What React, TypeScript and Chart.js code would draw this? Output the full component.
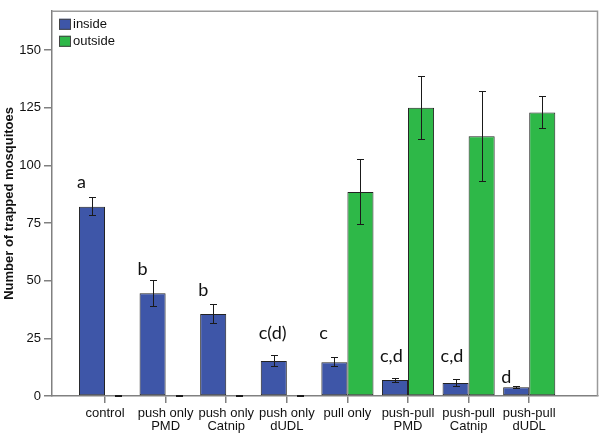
import React, { useEffect, useRef } from "react";
import { Chart, registerables } from "chart.js";

Chart.register(...registerables);

const categories: string[][] = [
  ["control"],
  ["push only", "PMD"],
  ["push only", "Catnip"],
  ["push only", "dUDL"],
  ["pull only"],
  ["push-pull", "PMD"],
  ["push-pull", "Catnip"],
  ["push-pull", "dUDL"],
];
const insideMeans = [82.0, 44.5, 35.6, 15.2, 14.6, 6.9, 5.6, 3.8];
const insideErr = [4.1, 5.8, 4.2, 2.6, 2.1, 1.1, 1.8, 0.7];
const outsideMeans = [0, 0, 0, 0, 88.4, 125.0, 112.6, 122.9];
const outsideErr = [0, 0, 0, 0, 14.3, 13.8, 19.8, 7.2];
const sigLetters = ["a", "b", "b", "c(d)", "c", "c,d", "c,d", "d"];
const sigLevels = [90.2, 52.5, 43.4, 24.5, 24.5, 14.9, 14.9, 5.6];
const yTicks = [0, 25, 50, 75, 100, 125, 150];
const seriesNames = ["inside", "outside"];

const BLUE = "#3e56a8";
const GREEN = "#2eb848";
const FONT = "'Liberation Sans', Arial, sans-serif";

export default function App() {
  const ref = useRef<HTMLCanvasElement | null>(null);

  useEffect(() => {
    document.body.style.margin = "0";
    const canvas = ref.current;
    if (!canvas) return;

    const errs = [insideErr, outsideErr];

    const errorBars = {
      id: "errorBars",
      afterDatasetsDraw(chart: any) {
        const ctx = chart.ctx;
        const y = chart.scales.y;
        ctx.save();
        ctx.strokeStyle = "#1a1a1a";
        ctx.lineWidth = 1;
        chart.data.datasets.forEach((ds: any, di: number) => {
          const meta = chart.getDatasetMeta(di);
          meta.data.forEach((el: any, i: number) => {
            const v = ds.data[i].y;
            const e = errs[di][i];
            const x = Math.round(el.x) + 0.5;
            const yt = Math.round(y.getPixelForValue(v + e)) + 0.5;
            const yb = Math.round(y.getPixelForValue(v - e)) - 0.5;
            const cap = 3.5;
            ctx.beginPath();
            ctx.moveTo(x, yt);
            ctx.lineTo(x, yb);
            ctx.moveTo(x - cap, yt);
            ctx.lineTo(x + cap, yt);
            ctx.moveTo(x - cap, yb);
            ctx.lineTo(x + cap, yb);
            ctx.stroke();
          });
        });
        ctx.restore();
      },
    };

    const letters = {
      id: "letters",
      afterDatasetsDraw(chart: any) {
        const ctx = chart.ctx;
        const y = chart.scales.y;
        const meta = chart.getDatasetMeta(0);
        ctx.save();
        ctx.fillStyle = "#111";
        ctx.font = "18px Lato, 'Open Sans', sans-serif";
        ctx.textAlign = "left";
        ctx.textBaseline = "alphabetic";
        meta.data.forEach((el: any, i: number) => {
          const left = el.x - el.width / 2 - 2;
          ctx.fillText(sigLetters[i], left, y.getPixelForValue(sigLevels[i]));
        });
        ctx.restore();
      },
    };

    const frame = {
      id: "frame",
      afterDraw(chart: any) {
        const { left, right, top, bottom } = chart.chartArea;
        const ctx = chart.ctx;
        ctx.save();
        ctx.strokeStyle = "#9a9a9a";
        ctx.lineWidth = 1.5;
        ctx.beginPath();
        ctx.moveTo(left, top + 0.5);
        ctx.lineTo(right - 0.5, top + 0.5);
        ctx.lineTo(right - 0.5, bottom);
        ctx.stroke();

        // legend
        const colors = [BLUE, GREEN];
        ctx.font = "13px " + FONT;
        ctx.textBaseline = "middle";
        ctx.textAlign = "left";
        seriesNames.forEach((name, i) => {
          const sx = left + 7;
          const sy = top + 8 + i * 17;
          ctx.fillStyle = colors[i];
          ctx.fillRect(sx, sy, 12, 11);
          ctx.strokeStyle = "#444";
          ctx.lineWidth = 1;
          ctx.strokeRect(sx + 0.5, sy + 0.5, 11, 10);
          ctx.fillStyle = "#111";
          ctx.fillText(name, sx + 14, sy + 6);
        });
        ctx.restore();
      },
    };

    const chart = new Chart(canvas, {
      type: "bar",
      data: {
        datasets: [
          {
            label: seriesNames[0],
            data: insideMeans.map((v, i) => ({ x: i, y: v })),
            backgroundColor: BLUE,
            borderColor: "#222",
            borderWidth: 1,
            borderSkipped: false,
          },
          {
            label: seriesNames[1],
            data: outsideMeans.map((v, i) => ({ x: i, y: v })),
            backgroundColor: GREEN,
            borderColor: "#222",
            borderWidth: 1,
            borderSkipped: false,
          },
        ],
      },
      options: {
        responsive: false,
        animation: false,
        categoryPercentage: 0.86,
        barPercentage: 1.0,
        layout: { padding: { top: 1, right: 2, left: 0, bottom: 0 } },
        plugins: {
          legend: { display: false },
          tooltip: { enabled: false },
        },
        scales: {
          x: {
            type: "linear",
            min: -0.875,
            max: 8.135,
            offset: false,
            afterFit(scale: any) {
              scale.height = 38;
            },
            afterBuildTicks(scale: any) {
              scale.ticks = categories.map((_, i) => ({ value: i }));
            },
            border: { color: "#808080", width: 1.5 },
            grid: {
              offset: false,
              drawOnChartArea: false,
              drawTicks: true,
              tickLength: 7,
              color: "#808080",
              lineWidth: 1.5,
            },
            ticks: {
              includeBounds: false,
              autoSkip: false,
              maxRotation: 0,
              padding: 4,
              color: "#111",
              font: { family: FONT, size: 13, lineHeight: 1.0 },
              callback: (v: any) => categories[Math.round(Number(v))] ?? "",
            },
          },
          y: {
            min: 0,
            max: 167,
            afterFit(scale: any) {
              scale.width = 52;
            },
            afterBuildTicks(scale: any) {
              scale.ticks = yTicks.map((v) => ({ value: v }));
            },
            border: { color: "#808080", width: 1.5 },
            grid: {
              drawOnChartArea: false,
              drawTicks: true,
              tickLength: 8,
              color: "#808080",
              lineWidth: 1.5,
            },
            ticks: {
              includeBounds: false,
              padding: 3,
              color: "#111",
              font: { family: FONT, size: 13 },
            },
            title: {
              display: true,
              text: "Number of trapped mosquitoes",
              color: "#111",
              font: { family: FONT, size: 13, weight: "bold" },
              padding: { top: 2, bottom: 0 },
            },
          },
        },
      },
      plugins: [errorBars, letters, frame],
    } as any);

    return () => chart.destroy();
  }, []);

  return (
    <div style={{ width: 600, height: 434 }}>
      <canvas ref={ref} width={600} height={434} />
    </div>
  );
}
